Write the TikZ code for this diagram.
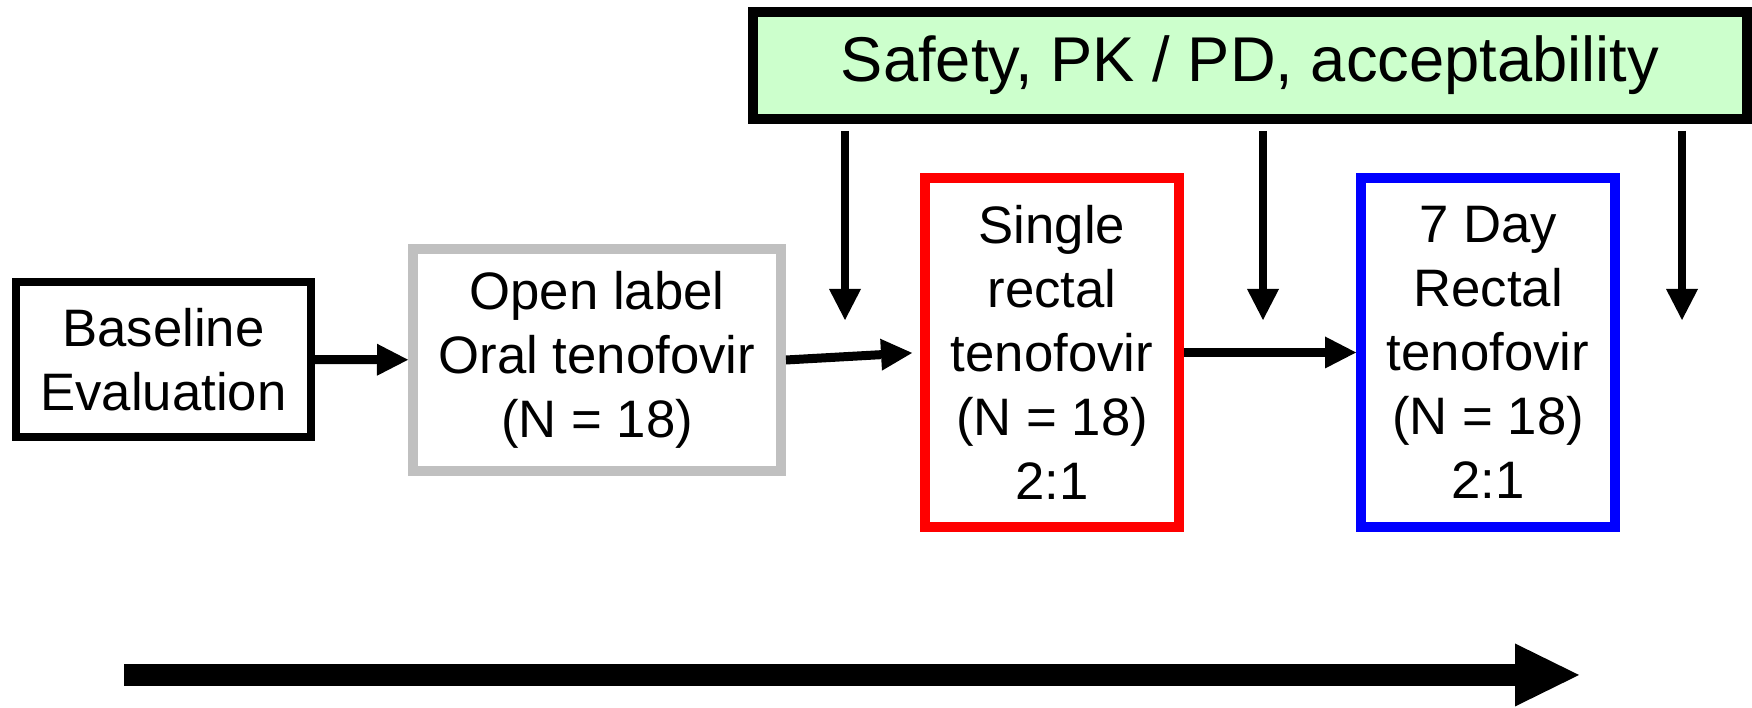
\documentclass[tikz,border=0pt]{standalone}
\usepackage{fontspec}
\setmainfont{Liberation Sans}
\usetikzlibrary{arrows.meta}
\definecolor{lightgreen}{RGB}{204,255,204}
\definecolor{lightgray}{RGB}{192,192,192}

\begin{document}
\begin{tikzpicture}[
  box/.style = {draw, line width=0.1cm, align=center, inner sep=0pt, font=\fontsize{15}{18.2}\selectfont},
  link/.style = {line width=0.09cm, -{Triangle[length=0.31cm, width=0.32cm, line width=0pt]}}
]
\useasboundingbox (0,0) rectangle (17.52,7.08);
% study arms
\node[box, line width=0.08cm, minimum width=2.95cm, minimum height=1.55cm] (base) at (1.635,3.485) {Baseline\\Evaluation};
\node[box, draw=lightgray, minimum width=3.68cm, minimum height=2.22cm] (oral) at (5.97,3.48) {Open label\\Oral tenofovir\\(N = 18)};
\node[box, draw=red, minimum width=2.54cm, minimum height=3.49cm] (single) at (10.52,3.555) {Single\\rectal\\tenofovir\\(N = 18)\\2:1};
\node[box, draw=blue, minimum width=2.54cm, minimum height=3.49cm] (seven) at (14.88,3.555) {7 Day\\Rectal\\tenofovir\\(N = 18)\\2:1};
\node[box, fill=lightgreen, minimum width=9.94cm, minimum height=1.07cm, font=\fontsize{18}{22}\selectfont] (safety) at (12.50,6.425) {Safety, PK / PD, acceptability};
\draw[link] (base) -- (oral);
\draw[link, shorten >=0.08cm] (oral.east) -- (single.west);
\draw[link] (single) -- (seven);
% assessments
\coordinate (t1) at (8.45,3.88);
\coordinate (t2) at (12.63,3.88);
\coordinate (t3) at (16.82,3.88);
\foreach \t in {t1,t2,t3}
  \draw[link, line width=0.08cm, shorten <=0.07cm] (safety.south -| \t) -- (\t);
% time line
\coordinate (start) at (1.24,0.33);
\coordinate (end) at (15.79,0.33);
\draw[line width=0.22cm, -{Triangle[length=0.64cm, width=0.63cm, line width=0pt]}] (start) -- (end);
\end{tikzpicture}
\end{document}
